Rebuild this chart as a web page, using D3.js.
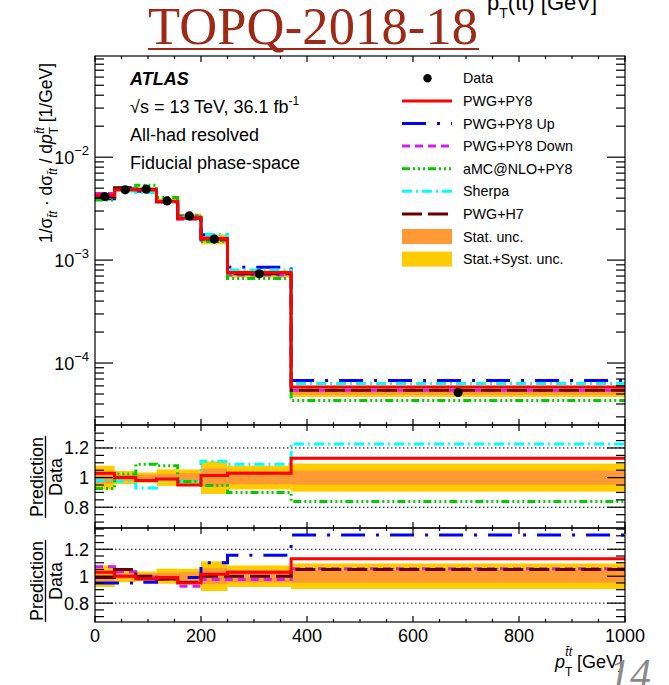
<!DOCTYPE html>
<html>
<head>
<meta charset="utf-8">
<script src="https://cdn.jsdelivr.net/npm/d3@7"></script>
<style>
  html, body { margin: 0; padding: 0; background: #fff; }
  svg { display: block; font-family: "Liberation Sans", Arial, sans-serif; }
</style>
</head>
<body>
<svg id="chart" width="669" height="685"></svg>
<script>
// bin edges of pT(ttbar) [GeV]
const binEdges = [0, 37, 77, 116, 156, 200, 250, 370, 1000];
// normalised data [1/GeV]
const dataVals = [4.15e-3, 4.82e-3, 4.89e-3, 3.76e-3, 2.69e-3, 1.60e-3, 7.36e-4, 5.17e-5];
// relative uncertainties
const statUnc = [0.04, 0.02, 0.02, 0.025, 0.03, 0.06, 0.045, 0.048];
const totUnc  = [0.08, 0.045, 0.035, 0.056, 0.055, 0.11, 0.08, 0.095];
// prediction / data
const ratioPwgPy8     = [1.03, 1.00, 0.98, 0.99, 0.95, 1.015, 1.03, 1.13];
const ratioPwgPy8Up   = [0.95, 0.95, 0.955, 0.98, 0.99, 1.10, 1.155, 1.306];
const ratioPwgPy8Down = [1.07, 1.033, 0.995, 0.98, 0.925, 0.975, 0.975, 1.055];
const ratioAmcPy8     = [0.926, 1.025, 1.09, 1.08, 0.973, 0.946, 0.90, 0.838];
const ratioSherpa     = [0.98, 0.975, 0.93, 0.987, 0.975, 1.11, 1.09, 1.227];
const ratioPwgH7      = [0.99, 1.05, 1.00, 0.98, 0.955, 1.00, 1.00, 1.05];
const xTicks = [0, 200, 400, 600, 800, 1000];
const ratioTicks = [0.8, 1, 1.2];

const series = [
  {name: 'PWG+PY8',      r: ratioPwgPy8,     color: '#ff0000', dash: null},
  {name: 'PWG+PY8 Up',   r: ratioPwgPy8Up,   color: '#0000ff', dash: '24,11,3,11'},
  {name: 'PWG+PY8 Down', r: ratioPwgPy8Down, color: '#d21ef0', dash: '8,5'},
  {name: 'aMC@NLO+PY8',  r: ratioAmcPy8,     color: '#00cc00', dash: '8,3,2,3,2,3,2,3'},
  {name: 'Sherpa',       r: ratioSherpa,     color: '#00ffff', dash: '10,4,2,4'},
  {name: 'PWG+H7',       r: ratioPwgH7,      color: '#660000', dash: '20,6'}
];
const byName = {};
series.forEach(s => byName[s.name] = s);

const svg = d3.select('#chart');
const left = 95, right = 625;
const mainTop = 56, mainBot = 425, r1Bot = 528, r2Bot = 622;

const x = d3.scaleLinear().domain([0, 1000]).range([left, right]);
const yMain = d3.scaleLog().domain([2.5e-5, 0.0962]).range([mainBot, mainTop]);
const yR1 = d3.scaleLinear().domain([0.66, 1.355]).range([r1Bot, mainBot]);
const yR2 = d3.scaleLinear().domain([0.66, 1.358]).range([r2Bot, r1Bot]);

const stepLine = (y, vals) => {
  let pts = vals.map((v, i) => [binEdges[i], v]);
  pts.push([binEdges[binEdges.length - 1], vals[vals.length - 1]]);
  return d3.line().x(d => x(d[0])).y(d => y(d[1])).curve(d3.curveStepAfter)(pts);
};

function clip(id, y0, y1){
  svg.append('clipPath').attr('id', id).append('rect')
    .attr('x', left).attr('y', y0).attr('width', right - left).attr('height', y1 - y0);
}
clip('cMain', mainTop, mainBot);
clip('cR1', mainBot, r1Bot);
clip('cR2', r1Bot, r2Bot);

// ---------- bands
function bands(g, yf, lo, hi){
  ['tot', 'stat'].forEach(k => {
    let u = k == 'tot' ? totUnc : statUnc;
    g.selectAll('.b' + k).data(dataVals).enter().append('rect')
      .attr('x', (d, i) => x(binEdges[i]))
      .attr('width', (d, i) => x(binEdges[i + 1]) - x(binEdges[i]))
      .attr('y', (d, i) => yf(hi(d, u[i])))
      .attr('height', (d, i) => yf(lo(d, u[i])) - yf(hi(d, u[i])))
      .attr('fill', k == 'tot' ? '#ffcc00' : '#ff9933');
  });
}

// ---------- main panel
let gMain = svg.append('g').attr('clip-path', 'url(#cMain)');
bands(gMain, yMain, (d, u) => d * (1 - u), (d, u) => d * (1 + u));
['PWG+PY8 Up', 'PWG+PY8 Down', 'aMC@NLO+PY8', 'Sherpa', 'PWG+H7', 'PWG+PY8'].forEach(n => {
  let s = byName[n];
  gMain.append('path').attr('d', stepLine(yMain, dataVals.map((d, i) => d * s.r[i])))
    .attr('fill', 'none').attr('stroke', s.color).attr('stroke-width', 3)
    .attr('stroke-dasharray', s.dash);
});
gMain.selectAll('.dot').data(dataVals).enter().append('circle')
  .attr('cx', (d, i) => x((binEdges[i] + binEdges[i + 1]) / 2))
  .attr('cy', d => yMain(d)).attr('r', 4.6).attr('fill', '#000');

// ---------- ratio panels
function ratioPanel(clipId, yf, names){
  let g = svg.append('g').attr('clip-path', 'url(#' + clipId + ')');
  bands(g, yf, (d, u) => 1 - u, (d, u) => 1 + u);
  [0.8, 1.2].forEach(v => {
    g.append('line').attr('x1', left).attr('x2', right).attr('y1', yf(v)).attr('y2', yf(v))
      .attr('stroke', '#000').attr('stroke-width', 1).attr('stroke-dasharray', '1.5,2.5');
  });
  names.forEach(n => {
    let s = byName[n];
    g.append('path').attr('d', stepLine(yf, s.r))
      .attr('fill', 'none').attr('stroke', s.color).attr('stroke-width', 3)
      .attr('stroke-dasharray', s.dash);
  });
}
ratioPanel('cR1', yR1, ['Sherpa', 'aMC@NLO+PY8', 'PWG+PY8']);
ratioPanel('cR2', yR2, ['PWG+PY8 Up', 'PWG+PY8 Down', 'PWG+H7', 'PWG+PY8']);

// ---------- frames and ticks
let axes = svg.append('g').attr('stroke', '#000').attr('stroke-width', 1.2);
[[mainTop, mainBot], [mainBot, r1Bot], [r1Bot, r2Bot]].forEach(p => {
  axes.append('rect').attr('x', left).attr('y', p[0]).attr('width', right - left).attr('height', p[1] - p[0])
    .attr('fill', 'none');
  d3.range(0, 1001, 50).forEach(v => {
    let len = v % 200 == 0 ? 6 : 3;
    axes.append('line').attr('x1', x(v)).attr('x2', x(v)).attr('y1', p[0]).attr('y2', p[0] + len);
    axes.append('line').attr('x1', x(v)).attr('x2', x(v)).attr('y1', p[1]).attr('y2', p[1] - len);
  });
});
function yTick(yv, len){
  if (yv < mainTop - 0.5 || yv > r2Bot + 0.5) return;
  axes.append('line').attr('x1', left).attr('x2', left + len).attr('y1', yv).attr('y2', yv);
  axes.append('line').attr('x1', right).attr('x2', right - len).attr('y1', yv).attr('y2', yv);
}
for (let e = -5; e <= -1; e++){
  for (let m = 1; m <= 9; m++){
    let v = m * Math.pow(10, e);
    if (v < 2.5e-5 || v > 0.0962) continue;
    yTick(yMain(v), m == 1 ? 18 : 9);
  }
}
[[yR1, mainBot, r1Bot], [yR2, r1Bot, r2Bot]].forEach(p => {
  d3.range(0.7, 1.36, 0.05).forEach(v => {
    let yv = p[0](v);
    if (yv <= p[1] + 1 || yv >= p[2] - 1) return;
    let major = Math.abs(v * 10 - Math.round(v * 10)) < 1e-6 && Math.round(v * 10) % 2 == 0;
    yTick(yv, major ? 18 : 9);
  });
});

// ---------- tick labels
let lab = svg.append('g').attr('font-size', 18).attr('fill', '#000');
[-2, -3, -4].forEach(e => {
  let t = lab.append('text').attr('x', 89).attr('y', yMain(Math.pow(10, e)) + 7).attr('text-anchor', 'end');
  t.append('tspan').text('10');
  t.append('tspan').attr('font-size', 13).attr('dy', -9).text('\u2212' + (-e));
});
[yR1, yR2].forEach(yf => {
  ratioTicks.forEach(v => {
    lab.append('text').attr('x', 89).attr('y', yf(v) + 6.5).attr('text-anchor', 'end').text(v);
  });
});
xTicks.forEach(v => {
  lab.append('text').attr('x', x(v)).attr('y', 642).attr('text-anchor', 'middle').text(v);
});

// ---------- axis titles
let yt = svg.append('text').attr('transform', 'translate(52,153) rotate(-90)')
  .attr('text-anchor', 'middle').attr('font-size', 17.5);
yt.append('tspan').text('1/\u03c3');
yt.append('tspan').attr('font-size', 12).attr('dy', 5).attr('font-style', 'italic').text('t\u0304t');
yt.append('tspan').attr('dy', -5).text(' \u00b7 d\u03c3');
yt.append('tspan').attr('font-size', 12).attr('dy', 5).attr('font-style', 'italic').text('t\u0304t');
yt.append('tspan').attr('dy', -5).text(' / d');
yt.append('tspan').attr('font-style', 'italic').text('p');
yt.append('tspan').attr('font-size', 12).attr('dy', 6).text('T');
yt.append('tspan').attr('font-size', 12).attr('dx', -7).attr('dy', -14).attr('font-style', 'italic').text('t\u0304t');
yt.append('tspan').attr('dy', 8).text(' [1/GeV]');

[[477, 'r1'], [581, 'r2']].forEach(p => {
  let g = svg.append('g').attr('transform', 'translate(45.5,' + p[0] + ') rotate(-90)').attr('font-size', 18);
  g.append('text').attr('x', 0).attr('y', -3).attr('text-anchor', 'middle').text('Prediction');
  g.append('line').attr('x1', -41).attr('x2', 41).attr('y1', 0).attr('y2', 0).attr('stroke', '#000').attr('stroke-width', 1.3);
  g.append('text').attr('x', 0).attr('y', 16).attr('text-anchor', 'middle').text('Data');
});

let xt = svg.append('text').attr('x', 623).attr('y', 668).attr('text-anchor', 'end').attr('font-size', 18);
xt.append('tspan').attr('font-style', 'italic').text('p');
xt.append('tspan').attr('font-size', 12).attr('dy', 8).text('T');
xt.append('tspan').attr('font-size', 12).attr('dx', -7).attr('dy', -20).attr('font-style', 'italic').text('t\u0304t');
xt.append('tspan').attr('dy', 12).text(' [GeV]');

// ---------- labels inside main panel
let info = svg.append('g').attr('font-size', 18);
info.append('text').attr('x', 130).attr('y', 85).attr('font-weight', 'bold').attr('font-style', 'italic').text('ATLAS');
let rs = info.append('text').attr('x', 130).attr('y', 113);
rs.append('tspan').text('\u221as = 13 TeV, 36.1 fb');
rs.append('tspan').attr('font-size', 12).attr('dy', -8).text('-1');
info.append('text').attr('x', 130).attr('y', 141).text('All-had resolved');
info.append('text').attr('x', 130).attr('y', 169).text('Fiducial phase-space');

// ---------- legend
const legendRows = ['Data'].concat(series.map(s => s.name), ['Stat. unc.', 'Stat.+Syst. unc.']);
let leg = svg.append('g').attr('font-size', 14.3);
legendRows.forEach((n, i) => {
  let yc = 78.3 + i * 22.6;
  if (n == 'Data'){
    leg.append('circle').attr('cx', 427.5).attr('cy', yc).attr('r', 4.2).attr('fill', '#000');
  } else if (byName[n]){
    let s = byName[n];
    leg.append('line').attr('x1', 402).attr('x2', 452).attr('y1', yc).attr('y2', yc)
      .attr('stroke', s.color).attr('stroke-width', 3).attr('stroke-dasharray', s.dash);
  } else {
    leg.append('rect').attr('x', 402).attr('y', yc - 7.5).attr('width', 50).attr('height', 15)
      .attr('fill', n == 'Stat. unc.' ? '#ff9933' : '#ffcc00');
  }
  leg.append('text').attr('x', 463).attr('y', yc + 5).text(n);
});

// ---------- slide decorations
svg.append('text').attr('x', 148).attr('y', 44).attr('font-family', '"Liberation Serif", serif')
  .attr('font-size', 52.5).attr('textLength', 330).attr('fill', '#9c2a17').text('TOPQ-2018-18');
svg.append('line').attr('x1', 148).attr('x2', 479).attr('y1', 49).attr('y2', 49)
  .attr('stroke', '#9c2a17').attr('stroke-width', 2);
let tr = svg.append('text').attr('x', 487).attr('y', 10).attr('font-size', 22);
tr.append('tspan').text('p');
tr.append('tspan').attr('font-size', 14).attr('dy', 8).text('T');
tr.append('tspan').attr('dy', -8).text('(tt) [GeV]');
svg.append('text').attr('x', 609).attr('y', 688).attr('font-family', '"Liberation Serif", serif')
  .attr('font-style', 'italic').attr('font-size', 42).attr('fill', '#8a8a8a').text('14');
</script>
</body>
</html>
